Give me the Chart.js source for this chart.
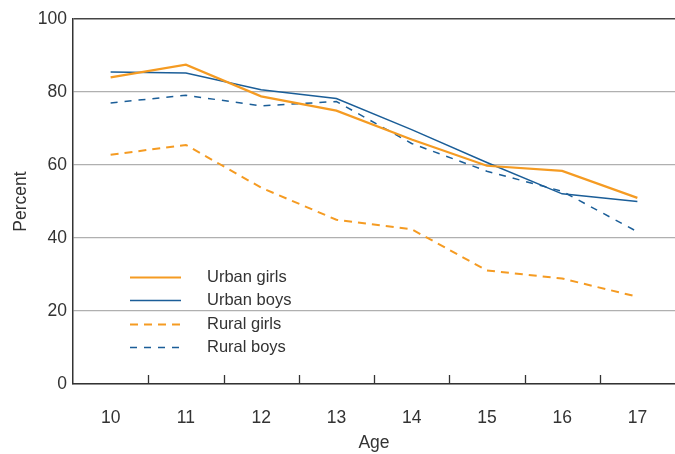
<!DOCTYPE html>
<html>
<head>
<meta charset="utf-8">
<script src="https://cdn.jsdelivr.net/npm/chart.js@4"></script>
<style>
  html, body { margin: 0; padding: 0; background: #fff; }
  #wrap { width: 675px; height: 454px; position: relative; }
</style>
</head>
<body>
<div id="wrap"><canvas id="chart"></canvas></div>
<script>
// данные графика
const ages = ['10', '11', '12', '13', '14', '15', '16', '17'];
const urbanGirls = [84.0, 87.5, 78.8, 74.9, 67.0, 59.8, 58.4, 51.0];
const urbanBoys = [85.5, 85.2, 80.6, 78.2, 69.7, 60.7, 52.1, 50.0];
const ruralGirls = [62.8, 65.5, 53.8, 45.0, 42.4, 31.1, 28.9, 23.9];
const ruralBoys = [77.0, 79.1, 76.2, 77.4, 65.9, 58.3, 52.8, 41.7];
const yTicks = [0, 20, 40, 60, 80, 100];

const orange = '#f59b22';
const blue = '#1b5e98';
const textColor = '#333333';
const fontFamily = "'Liberation Sans', Arial, sans-serif";

// засечки между категориями, направленные внутрь
const innerTicks = {
    id: 'innerTicks',
    afterDraw(chart) {
        const x = chart.scales.x;
        const ctx = chart.ctx;
        const bottom = chart.chartArea.bottom;
        ctx.save();
        ctx.strokeStyle = '#333';
        ctx.lineWidth = 1.3;
        for (let i = 0; i < ages.length - 1; i++) {
            const px = Math.round((x.getPixelForValue(i) + x.getPixelForValue(i + 1)) / 2) + 0.5;
            ctx.beginPath();
            ctx.moveTo(px, bottom);
            ctx.lineTo(px, bottom - 9);
            ctx.stroke();
        }
        ctx.restore();
    }
};

// легенда внутри области графика
const insideLegend = {
    id: 'insideLegend',
    afterDraw(chart) {
        const ctx = chart.ctx;
        const rows = [277, 300, 324, 347];
        ctx.save();
        ctx.font = '16.5px ' + fontFamily;
        ctx.textBaseline = 'middle';
        chart.data.datasets.forEach((ds, i) => {
            const y = rows[i] + 0.5;
            ctx.strokeStyle = ds.borderColor;
            ctx.lineWidth = ds.borderWidth;
            ctx.setLineDash(ds.borderDash || []);
            ctx.beginPath();
            ctx.moveTo(130, y);
            ctx.lineTo(181, y);
            ctx.stroke();
            ctx.setLineDash([]);
            ctx.fillStyle = textColor;
            ctx.fillText(ds.label, 207, rows[i]);
        });
        ctx.restore();
    }
};

const ctx = document.getElementById('chart').getContext('2d');
new Chart(ctx, {
    type: 'line',
    data: {
        labels: ages,
        datasets: [
            { label: 'Urban girls', data: urbanGirls, borderColor: orange, borderWidth: 2.2 },
            { label: 'Urban boys', data: urbanBoys, borderColor: blue, borderWidth: 1.5 },
            { label: 'Rural girls', data: ruralGirls, borderColor: orange, borderWidth: 2, borderDash: [8, 6] },
            { label: 'Rural boys', data: ruralBoys, borderColor: blue, borderWidth: 1.5, borderDash: [7, 7] }
        ]
    },
    options: {
        responsive: true,
        maintainAspectRatio: false,
        animation: false,
        layout: { padding: { top: 19, right: 0, left: 0, bottom: 0 } },
        elements: {
            point: { radius: 0 },
            line: { tension: 0, fill: false }
        },
        plugins: {
            legend: { display: false },
            tooltip: { enabled: false }
        },
        scales: {
            x: {
                type: 'category',
                offset: true,
                grid: { display: false },
                border: { display: true, color: '#333', width: 1.5 },
                ticks: {
                    color: textColor,
                    font: { family: fontFamily, size: 17.5 },
                    padding: 16,
                    maxRotation: 0
                },
                title: {
                    display: true,
                    text: 'Age',
                    color: textColor,
                    font: { family: fontFamily, size: 17.5 },
                    padding: { top: 9, bottom: 0 }
                },
                afterFit(scale) { scale.height = 70; }
            },
            y: {
                min: 0,
                max: 100,
                afterBuildTicks(scale) {
                    scale.ticks = yTicks.map(v => ({ value: v }));
                },
                grid: {
                    drawTicks: false,
                    color: c => (c.tick && c.tick.value === 100) ? '#444' : '#b0b0b0',
                    lineWidth: c => (c.tick && c.tick.value === 100) ? 1.5 : 1.2
                },
                border: { display: true, color: '#333', width: 1.5 },
                ticks: {
                    color: textColor,
                    font: { family: fontFamily, size: 17.5 },
                    padding: 6
                },
                title: {
                    display: true,
                    text: 'Percent',
                    color: textColor,
                    font: { family: fontFamily, size: 17.5 },
                    padding: { top: 11, bottom: 0 }
                },
                afterFit(scale) { scale.width = 73; }
            }
        }
    },
    plugins: [innerTicks, insideLegend]
});
</script>
</body>
</html>
